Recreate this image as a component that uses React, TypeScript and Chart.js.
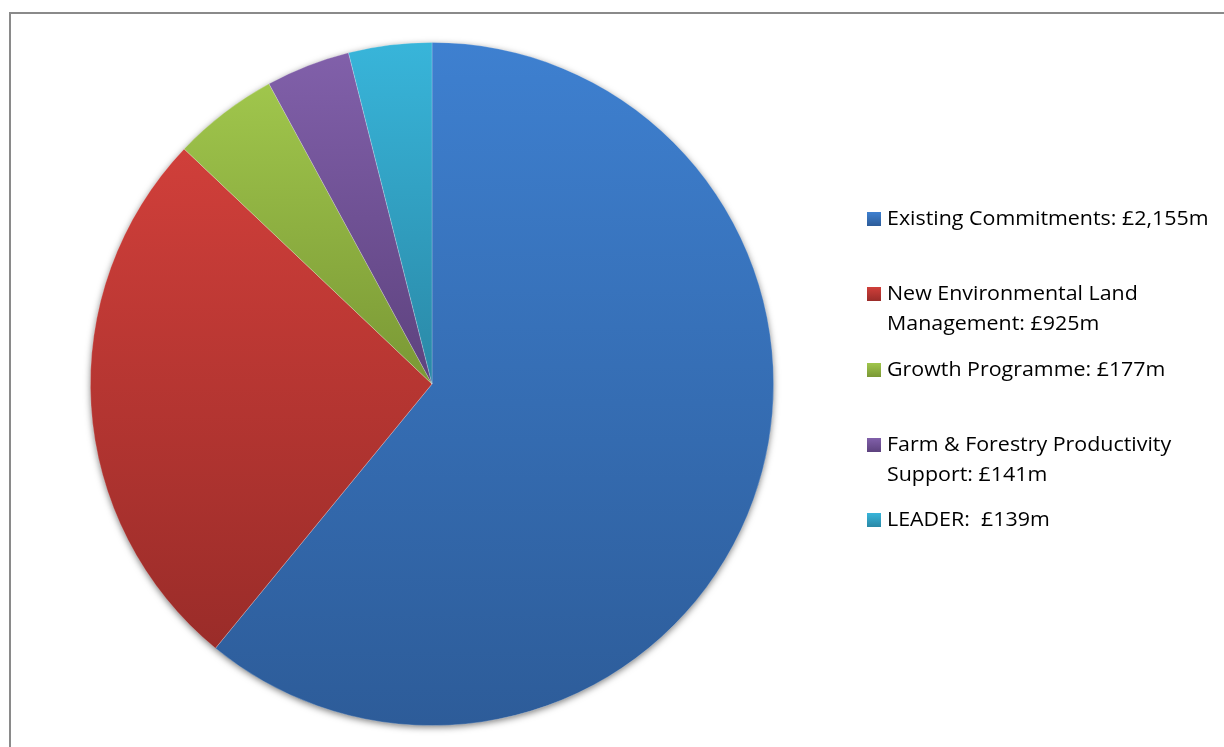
import React, { useEffect, useRef } from "react";
import { Chart, registerables } from "chart.js";

Chart.register(...registerables);

const categories = [
  "Existing Commitments",
  "New Environmental Land Management",
  "Growth Programme",
  "Farm & Forestry Productivity Support",
  "LEADER",
];
const values = [2155, 925, 177, 141, 139];
const legendLines = [
  ["Existing Commitments: £2,155m"],
  ["New Environmental Land", "Management: £925m"],
  ["Growth Programme: £177m"],
  ["Farm & Forestry Productivity", "Support: £141m"],
  ["LEADER:  £139m"],
];
const topColors = ["#3e80d0", "#d03f3a", "#a0c64c", "#8160aa", "#38b5da"];
const bottomColors = ["#2d5c99", "#9a2c29", "#7a9835", "#5d427e", "#2a88a6"];

const legendBaselines = [225.5, 300.7, 376.5, 451.5, 527];
const LINE_H = 30;
const FONT = "'Open Sans', sans-serif";
const FONT_SIZE = 20;
const TEXT_SCALE_X = 1.07;

function sliceGradient(ctx: CanvasRenderingContext2D, area: any, index: number) {
  const cx = (area.left + area.right) / 2;
  const cy = (area.top + area.bottom) / 2;
  const r = Math.min(area.width, area.height) / 2;
  const total = values.reduce((a, b) => a + b, 0);
  let start = -Math.PI / 2;
  for (let i = 0; i < index; i++) start += (values[i] / total) * Math.PI * 2;
  const end = start + (values[index] / total) * Math.PI * 2;
  const ys = [cy, cy + r * Math.sin(start), cy + r * Math.sin(end)];
  const within = (a: number) => {
    let t = a;
    while (t < start) t += Math.PI * 2;
    return t <= end;
  };
  if (within(-Math.PI / 2)) ys.push(cy - r);
  if (within(Math.PI / 2)) ys.push(cy + r);
  const y0 = Math.min(...ys);
  const y1 = Math.max(...ys);
  const g = ctx.createLinearGradient(0, y0, 0, y1);
  g.addColorStop(0, topColors[index]);
  g.addColorStop(1, bottomColors[index]);
  return g;
}

const shadowPlugin = {
  id: "pieShadow",
  beforeDatasetsDraw(chart: any) {
    const meta = chart.getDatasetMeta(0);
    const arc = meta.data[0];
    if (!arc) return;
    const ctx = chart.ctx;
    ctx.save();
    ctx.shadowColor = "rgba(0,0,0,0.55)";
    ctx.shadowBlur = 7;
    ctx.shadowOffsetX = 0;
    ctx.shadowOffsetY = 2;
    ctx.fillStyle = "#ffffff";
    ctx.beginPath();
    ctx.arc(arc.x, arc.y, arc.outerRadius - 0.5, 0, Math.PI * 2);
    ctx.fill();
    ctx.restore();
  },
};

export default function App() {
  const canvasRef = useRef<HTMLCanvasElement | null>(null);

  useEffect(() => {
    const canvas = canvasRef.current;
    if (!canvas) return;
    const chart = new Chart(canvas, {
      type: "pie",
      data: {
        labels: categories,
        datasets: [
          {
            data: values,
            backgroundColor: (c: any) => {
              const area = c.chart.chartArea;
              if (!area) return topColors[c.dataIndex];
              return sliceGradient(c.chart.ctx, area, c.dataIndex);
            },
            borderColor: "rgba(255,255,255,0.25)",
            borderWidth: 0.8,
          },
        ],
      },
      options: {
        responsive: false,
        maintainAspectRatio: false,
        animation: false,
        layout: { padding: { left: 90, top: 42, right: 450, bottom: 21 } },
        plugins: {
          legend: { display: false },
          tooltip: { enabled: false },
        },
      },
      plugins: [shadowPlugin],
    });
    return () => chart.destroy();
  }, []);

  return (
    <div style={{ position: "fixed", left: 0, top: 0, width: 1224, height: 747, background: "#fff", overflow: "hidden" }}>
      <div
        style={{
          position: "absolute",
          left: 9,
          top: 12,
          width: 1400,
          height: 900,
          border: "2px solid #8a8a8a",
          boxSizing: "border-box",
        }}
      />
      <canvas ref={canvasRef} width={1224} height={747} style={{ position: "absolute", left: 0, top: 0 }} />
      {legendLines.map((lines, i) => (
        <div key={i}>
          <div
            style={{
              position: "absolute",
              left: 867,
              top: legendBaselines[i] - 14,
              width: 14,
              height: 14,
              background: `linear-gradient(${topColors[i]}, ${bottomColors[i]})`,
            }}
          />
          {lines.map((t, j) => (
            <div
              key={j}
              style={{
                position: "absolute",
                left: 887,
                top: legendBaselines[i] + j * LINE_H - FONT_SIZE * 0.888,
                fontFamily: FONT,
                fontSize: FONT_SIZE,
                lineHeight: 1,
                color: "#000",
                whiteSpace: "pre",
                transform: `scaleX(${TEXT_SCALE_X})`,
                transformOrigin: "left center",
              }}
            >
              {t}
            </div>
          ))}
        </div>
      ))}
    </div>
  );
}
